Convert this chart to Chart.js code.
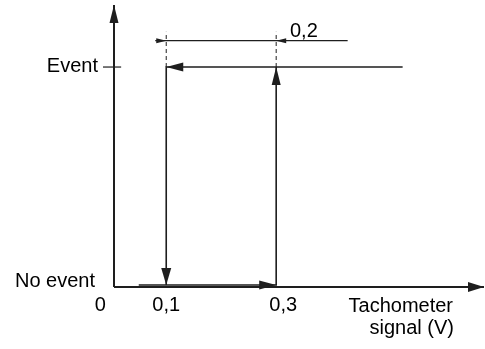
<!DOCTYPE html>
<html>
<head>
<meta charset="utf-8">
<script src="https://cdn.jsdelivr.net/npm/chart.js@4"></script>
<style>
    html, body { margin: 0; padding: 0; background: #fff; }
    canvas { display: block; }
</style>
</head>
<body>
<canvas id="hysteresisChart" width="485" height="349"></canvas>
<script>
// values
const levelValues = [0, 1];                 // output state
const levelLabels = ['No event', 'Event'];
const tickValues = [0, 0.1, 0.3];           // tachometer signal (V)
const tickLabels = ['0', '0,1', '0,3'];
const axisTitle = ['Tachometer', 'signal (V)'];
const bandLabel = '0,2';                    // hysteresis width

const risePath = [{x: 0.05, y: 0.009}, {x: 0.3, y: 0.009}, {x: 0.3, y: 1}];
const fallPath = [{x: 0.53, y: 1}, {x: 0.1, y: 1}, {x: 0.1, y: 0.009}];
const bandPath = [{x: 0.08, y: 1.12}, {x: 0.1, y: 1.12}, {x: 0.3, y: 1.12}, {x: 0.43, y: 1.12}];
const lowGuide = [{x: 0.1, y: 1}, {x: 0.1, y: 1.16}];
const highGuide = [{x: 0.3, y: 1}, {x: 0.3, y: 1.16}];
const xAxisLine = [{x: 0.005, y: 0}, {x: 0.678, y: 0}];
const yAxisLine = [{x: 0.005, y: 0}, {x: 0.005, y: 1.282}];
const eventTick = [{x: -0.015, y: 1}, {x: 0.018, y: 1}];

const ink = '#1e1e1e';
const font = '20px Arial, "Liberation Sans", sans-serif';

function lineSet(points, width, extra) {
    return Object.assign({
        type: 'line',
        data: points,
        borderColor: ink,
        borderWidth: width,
        pointRadius: 0,
        fill: false,
        tension: 0,
        clip: false
    }, extra || {});
}

// filled arrowheads at chosen points, direction taken from the neighbouring point
const arrowPlugin = {
    id: 'arrows',
    afterDatasetsDraw(chart) {
        const ctx = chart.ctx;
        chart.data.datasets.forEach((ds, i) => {
            if (!ds.arrows) return;
            const pts = chart.getDatasetMeta(i).data;
            ds.arrows.forEach(a => {
                const tip = pts[a.tip], from = pts[a.from];
                let dx = tip.x - from.x, dy = tip.y - from.y;
                const d = Math.hypot(dx, dy);
                dx /= d; dy /= d;
                const bx = tip.x - dx * a.len, by = tip.y - dy * a.len;
                ctx.save();
                ctx.fillStyle = ink;
                ctx.beginPath();
                ctx.moveTo(tip.x, tip.y);
                ctx.lineTo(bx - dy * a.half, by + dx * a.half);
                ctx.lineTo(bx + dy * a.half, by - dx * a.half);
                ctx.closePath();
                ctx.fill();
                ctx.restore();
            });
        });
    }
};

const labelPlugin = {
    id: 'labels',
    afterDraw(chart) {
        const ctx = chart.ctx;
        const xs = chart.scales.x, ys = chart.scales.y;
        const tickShift = [-11, 0, 7];
        ctx.save();
        ctx.fillStyle = '#000';
        ctx.font = font;
        ctx.textBaseline = 'alphabetic';

        ctx.textAlign = 'center';
        tickValues.forEach((v, i) => {
            ctx.fillText(tickLabels[i], xs.getPixelForValue(v) + tickShift[i], 311);
        });

        ctx.textAlign = 'right';
        ctx.fillText(levelLabels[0], 95, ys.getPixelForValue(levelValues[0]));
        ctx.fillText(levelLabels[1], 98, ys.getPixelForValue(levelValues[1]) + 5);

        ctx.fillText(axisTitle[0], 453, 312);
        ctx.fillText(axisTitle[1], 454, 334);

        ctx.textAlign = 'left';
        ctx.fillText(bandLabel, 290, ys.getPixelForValue(bandPath[0].y) - 4);
        ctx.restore();
    }
};

const ctx = document.getElementById('hysteresisChart').getContext('2d');
new Chart(ctx, {
    type: 'scatter',
    data: {
        datasets: [
            lineSet(xAxisLine, 2, {arrows: [{tip: 1, from: 0, len: 16, half: 5}]}),
            lineSet(yAxisLine, 2, {arrows: [{tip: 1, from: 0, len: 18, half: 4.5}]}),
            lineSet(eventTick, 1.2),
            lineSet(risePath, 1.6, {arrows: [{tip: 1, from: 0, len: 17, half: 4.5}, {tip: 2, from: 1, len: 18, half: 4.5}]}),
            lineSet(fallPath, 1.6, {arrows: [{tip: 1, from: 0, len: 17, half: 4.5}, {tip: 2, from: 1, len: 17, half: 5}]}),
            lineSet(bandPath, 1.2, {arrows: [{tip: 1, from: 0, len: 10, half: 2.5}, {tip: 2, from: 3, len: 10, half: 2.5}]}),
            lineSet(lowGuide, 1, {borderDash: [4, 3]}),
            lineSet(highGuide, 1, {borderDash: [4, 3]})
        ]
    },
    options: {
        responsive: false,
        animation: false,
        layout: {padding: {left: 114, right: 1, top: 5, bottom: 62}},
        plugins: {
            legend: {display: false},
            tooltip: {enabled: false}
        },
        scales: {
            x: {type: 'linear', display: false, min: 0.005, max: 0.678},
            y: {type: 'linear', display: false, min: 0, max: 1.282}
        }
    },
    plugins: [arrowPlugin, labelPlugin]
});
</script>
</body>
</html>
